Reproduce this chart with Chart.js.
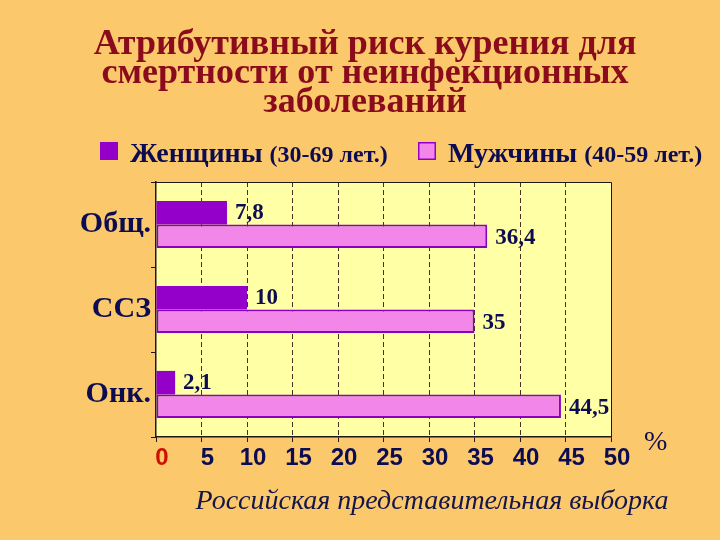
<!DOCTYPE html>
<html>
<head>
<meta charset="utf-8">
<script src="https://cdn.jsdelivr.net/npm/chart.js@4"></script>
<style>
  html, body { margin: 0; padding: 0; background: #FBC86B; }
  #wrap { width: 720px; height: 540px; }
</style>
</head>
<body>
<div id="wrap"><canvas id="smokingChart"></canvas></div>
<script>
// Data
const categories = ["Общ.", "ССЗ", "Онк."];
const womenValues = [7.8, 10, 2.1];
const menValues = [36.4, 35, 44.5];
const seriesNames = ["Женщины", "Мужчины"];
const seriesAges = ["(30-69 лет.)", "(40-59 лет.)"];
const xTicks = [0, 5, 10, 15, 20, 25, 30, 35, 40, 45, 50];
const titleLines = ["Атрибутивный риск курения для", "смертности от неинфекционных", "заболеваний"];
const caption = "Российская представительная выборка";

const navy = "#0C0C52";
const purple = "#9400CA";
const pink = "#F286E9";

//Paint slide background and the yellow plot area
const backgroundPlugin = {
    id: "backgroundPlugin",
    beforeDraw(chart) {
        const ctx = chart.ctx;
        const a = chart.chartArea;
        ctx.save();
        ctx.fillStyle = "#FBC86B";
        ctx.fillRect(0, 0, chart.width, chart.height);
        ctx.fillStyle = "#FFFFA6";
        ctx.fillRect(a.left, a.top, a.right - a.left, a.bottom - a.top);
        ctx.restore();
    }
};

//Labels next to bars, frame, title, legend, % sign and caption
const extrasPlugin = {
    id: "extrasPlugin",
    afterDatasetsDraw(chart) {
        const ctx = chart.ctx;
        const a = chart.chartArea;
        ctx.save();
        // top and right frame
        ctx.strokeStyle = "#1a1a1a";
        ctx.lineWidth = 1;
        ctx.beginPath();
        ctx.moveTo(a.left, a.top + 0.5);
        ctx.lineTo(a.right + 0.5, a.top + 0.5);
        ctx.lineTo(a.right + 0.5, a.bottom);
        ctx.stroke();

        // value labels
        ctx.font = "bold 23px 'Liberation Serif'";
        ctx.fillStyle = navy;
        ctx.textAlign = "left";
        ctx.textBaseline = "middle";
        chart.data.datasets.forEach((ds, di) => {
            const meta = chart.getDatasetMeta(di);
            meta.data.forEach((bar, i) => {
                const txt = String(ds.data[i]).replace(".", ",");
                ctx.fillText(txt, bar.x + 8, bar.y + (di === 1 ? 2 : 0));
            });
        });
        ctx.restore();
    },
    afterDraw(chart) {
        const ctx = chart.ctx;
        ctx.save();
        // title
        ctx.fillStyle = "#8A0C1C";
        ctx.font = "bold 36px 'Liberation Serif'";
        ctx.textAlign = "center";
        ctx.textBaseline = "middle";
        titleLines.forEach((line, i) => ctx.fillText(line, 365, 45 + i * 29));

        // legend
        const colors = [purple, pink];
        const xs = [100, 418];
        ctx.textAlign = "left";
        ctx.textBaseline = "alphabetic";
        for (let i = 0; i < 2; i++) {
            ctx.fillStyle = colors[i];
            ctx.fillRect(xs[i], 142, 18, 18);
            if (i === 1) {
                ctx.strokeStyle = purple;
                ctx.lineWidth = 1.5;
                ctx.strokeRect(xs[i] + 0.75, 142.75, 16.5, 16.5);
            }
            ctx.fillStyle = navy;
            ctx.font = "bold 28px 'Liberation Serif'";
            ctx.fillText(seriesNames[i], xs[i] + 30, 162);
            const w = ctx.measureText(seriesNames[i] + " ").width;
            ctx.font = "bold 24px 'Liberation Serif'";
            ctx.fillText(seriesAges[i], xs[i] + 30 + w, 162);
        }
        // percent sign
        ctx.font = "28px 'Liberation Serif'";
        ctx.fillText("%", 644, 450);
        // caption
        ctx.font = "italic 28px 'Liberation Serif'";
        ctx.textAlign = "center";
        ctx.fillStyle = "#15154A";
        ctx.fillText(caption, 432, 509);
        ctx.restore();
    }
};

const chartData = {
    labels: categories,
    datasets: [
        {
            label: seriesNames[0],
            data: womenValues,
            backgroundColor: purple,
            borderWidth: 0
        },
        {
            label: seriesNames[1],
            data: menValues,
            backgroundColor: pink,
            borderColor: "#8A00C0",
            borderWidth: 2,
            borderSkipped: false
        }
    ]
};

const chartOptions = {
    indexAxis: "y",
    responsive: true,
    maintainAspectRatio: false,
    animation: false,
    layout: {
        padding: { top: 182, left: 10, right: 109, bottom: 53 }
    },
    datasets: {
        bar: { categoryPercentage: 0.555, barPercentage: 1.0 }
    },
    plugins: {
        legend: { display: false },
        tooltip: { enabled: false },
        title: { display: false }
    },
    scales: {
        x: {
            type: "linear",
            min: 0,
            max: 50,
            afterBuildTicks(scale) {
                scale.ticks = xTicks.map(v => ({ value: v }));
            },
            afterFit(scale) { scale.height = 50; },
            grid: {
                color: ctx => (ctx.tick && (ctx.tick.value === 0 || ctx.tick.value === 50)) ? "rgba(0,0,0,0)" : "#4a3020",
                lineWidth: 1,
                drawTicks: true,
                tickLength: 5,
                tickColor: "#1a1a1a"
            },
            border: { display: true, color: "#1a1a1a", width: 1.5, dash: [5, 3] },
            ticks: {
                padding: 2,
                labelOffset: 6,
                color: ctx => ctx.tick.value === 0 ? "#CC1100" : navy,
                font: { family: "'Liberation Sans'", size: 24, weight: "bold" }
            }
        },
        y: {
            afterFit(scale) { scale.width = 146; },
            grid: {
                drawOnChartArea: false,
                drawTicks: true,
                tickLength: 5,
                tickColor: "#1a1a1a",
                offset: true
            },
            border: { display: true, color: "#1a1a1a", width: 1.5 },
            ticks: {
                padding: 0,
                color: navy,
                font: { family: "'Liberation Serif'", size: 30, weight: "bold" }
            }
        }
    }
};

const ctx = document.getElementById("smokingChart").getContext("2d");
new Chart(ctx, {
    type: "bar",
    data: chartData,
    options: chartOptions,
    plugins: [backgroundPlugin, extrasPlugin]
});
</script>
</body>
</html>
